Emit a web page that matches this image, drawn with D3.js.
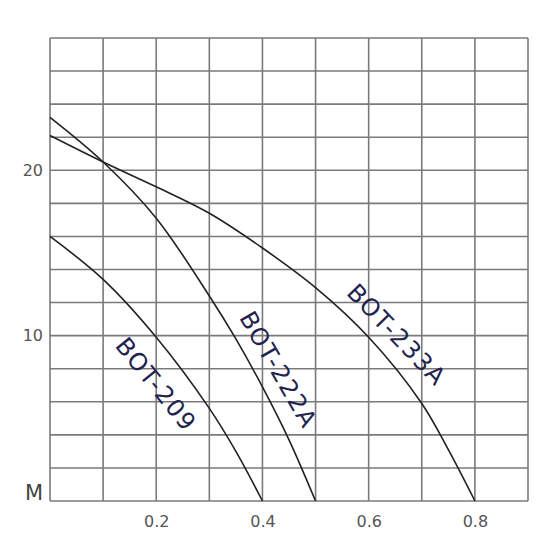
<!DOCTYPE html>
<html>
<head>
<meta charset="utf-8">
<script src="https://cdn.jsdelivr.net/npm/d3@7"></script>
<style>
  body { margin: 0; background: #fff; }
</style>
</head>
<body>
<div id="chart"></div>
<script>
const flowTicks = [0.2, 0.4, 0.6, 0.8];
const headTicks = [10, 20];

const bot209 = [[0, 16.0], [0.1, 13.4], [0.2, 9.9], [0.3, 5.6], [0.35, 3.0], [0.4, 0]];
const bot222A = [[0, 23.2], [0.1, 20.5], [0.2, 17.1], [0.3, 12.4], [0.35, 9.8], [0.4, 6.9], [0.45, 3.7], [0.5, 0]];
const bot233A = [[0, 22.1], [0.1, 20.5], [0.2, 19.0], [0.3, 17.4], [0.4, 15.3], [0.5, 12.9], [0.6, 9.9], [0.7, 5.9], [0.75, 3.1], [0.8, 0]];

const seriesNames = ["BOT-209", "BOT-222A", "BOT-233A"];
const labelPos = [[0.198, 7.0, 51], [0.428, 7.9, 60], [0.651, 10.0, 46]];

const width = 560;
const height = 560;
const margin = { top: 38, right: 32, bottom: 59, left: 50 };

const svg = d3.select("#chart")
  .append("svg")
  .attr("width", width)
  .attr("height", height);

const x = d3.scaleLinear()
  .domain([0, 0.9])
  .range([margin.left, width - margin.right]);

const y = d3.scaleLinear()
  .domain([0, 28])
  .range([height - margin.bottom, margin.top]);

// grid
const grid = svg.append("g")
  .attr("stroke", "#7a7a7a")
  .attr("stroke-width", 1.6);

grid.selectAll("line.v")
  .data(d3.range(0, 10).map(i => i / 10))
  .join("line")
    .attr("class", "v")
    .attr("x1", d => x(d))
    .attr("x2", d => x(d))
    .attr("y1", y(0))
    .attr("y2", y(28));

grid.selectAll("line.h")
  .data(d3.range(0, 29, 2))
  .join("line")
    .attr("class", "h")
    .attr("x1", x(0))
    .attr("x2", x(0.9))
    .attr("y1", d => y(d))
    .attr("y2", d => y(d));

// axes (labels only)
svg.append("g")
  .attr("transform", `translate(0,${y(0)})`)
  .call(d3.axisBottom(x).tickValues(flowTicks).tickSize(0).tickPadding(15).tickFormat(d3.format(".1f")))
  .call(g => g.select(".domain").remove())
  .attr("font-family", "'DejaVu Sans', sans-serif")
  .attr("font-size", 16)
  .attr("color", "#555");

svg.append("g")
  .attr("transform", `translate(${x(0)},0)`)
  .call(d3.axisLeft(y).tickValues(headTicks).tickSize(0).tickPadding(7))
  .call(g => g.select(".domain").remove())
  .attr("font-family", "'DejaVu Sans', sans-serif")
  .attr("font-size", 16)
  .attr("color", "#555");

svg.append("text")
  .attr("x", x(0) - 7)
  .attr("y", y(0) - 1)
  .attr("text-anchor", "end")
  .attr("font-family", "'DejaVu Sans', sans-serif")
  .attr("font-size", 21)
  .attr("fill", "#444")
  .text("M");

// curves
const line = d3.line()
  .x(d => x(d[0]))
  .y(d => y(d[1]))
  .curve(d3.curveCatmullRom);

svg.append("g")
  .attr("fill", "none")
  .attr("stroke", "#222")
  .attr("stroke-width", 1.6)
  .selectAll("path")
  .data([bot209, bot222A, bot233A])
  .join("path")
    .attr("d", line);

// curve labels
svg.append("g")
  .selectAll("text")
  .data(seriesNames)
  .join("text")
    .attr("transform", (d, i) => `translate(${x(labelPos[i][0])},${y(labelPos[i][1])}) rotate(${labelPos[i][2]})`)
    .attr("text-anchor", "middle")
    .attr("dominant-baseline", "middle")
    .attr("font-family", "'DejaVu Sans', sans-serif")
    .attr("font-size", 24)
    .attr("letter-spacing", 1.5)
    .attr("fill", "#22224e")
    .text(d => d);
</script>
</body>
</html>
